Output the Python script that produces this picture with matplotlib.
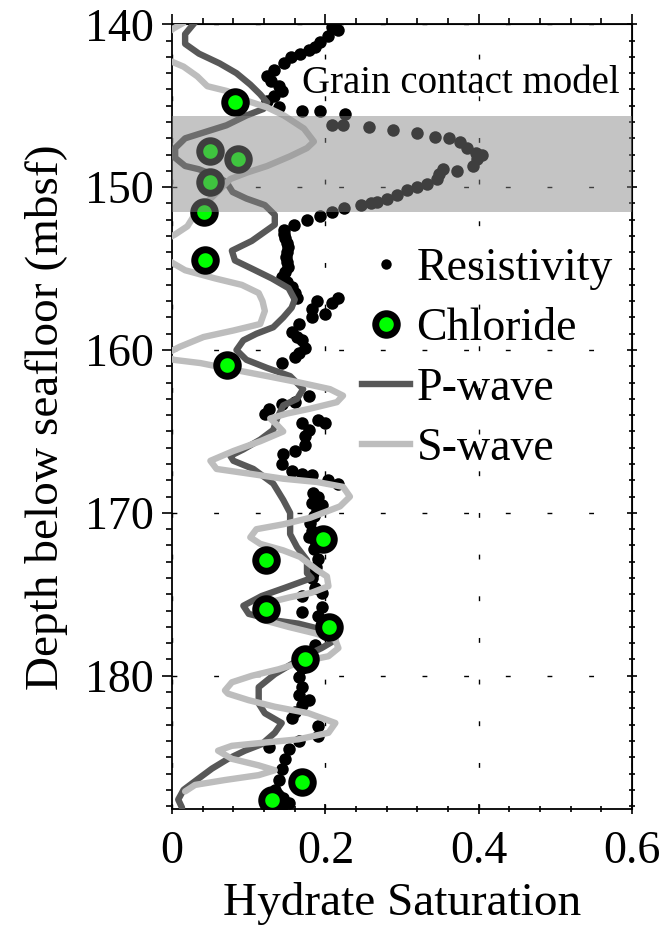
import matplotlib
matplotlib.use("Agg")
import matplotlib.pyplot as plt
from matplotlib.ticker import MultipleLocator, NullFormatter
from matplotlib.lines import Line2D

plt.rcParams["font.family"] = ["Liberation Serif", "DejaVu Serif"]

# resistivity-derived saturation (depth mbsf, saturation)
res_depth = [140.15, 140.35, 140.7, 141.1, 141.4, 141.6, 141.8, 142.0, 142.4, 142.8,
             143.2, 143.5, 143.8, 144.1, 144.4, 144.7, 145.1, 145.3, 145.3, 145.5,
             146.2, 146.2, 146.3, 146.5, 146.7, 146.9, 147.0, 147.2, 147.6, 147.9,
             148.0, 148.3, 148.7, 149.0, 148.9, 149.2, 149.5, 149.8, 150.0, 150.2,
             150.5, 150.7, 150.9, 151.0, 151.1, 151.3, 151.5, 151.8, 152.0, 152.3,
             152.6, 152.9, 153.1, 153.4, 153.7, 154.0, 154.3, 154.6, 154.9, 155.2,
             155.5, 155.8, 156.1, 156.5, 156.8, 156.8, 157.0, 157.1, 157.5, 157.8,
             158.0, 158.4, 158.9, 159.2, 159.4, 159.9, 160.2, 160.4, 160.8, 162.8,
             163.2, 163.3, 163.6, 163.9, 164.3, 164.5, 164.5, 164.9, 165.3, 165.8,
             166.2, 166.4, 167.0, 167.4, 167.6, 167.7, 168.0, 168.2, 168.8, 169.0,
             169.4, 169.5, 169.8, 170.2, 170.6, 171.1, 171.5, 172.2, 172.8, 173.3,
             173.7, 174.0, 174.6, 174.9, 175.1, 175.8, 176.1, 176.3, 177.3, 178.1,
             178.6, 179.0, 179.5, 180.1, 180.7, 181.2, 181.5, 181.8, 182.2, 182.6,
             183.1, 183.7, 184.0, 184.4, 184.5, 185.1, 185.7, 186.4, 187.0, 187.5,
             187.8, 188.0]
res_sat = [0.209, 0.216, 0.204, 0.193, 0.187, 0.178, 0.167, 0.155, 0.146, 0.133,
           0.124, 0.129, 0.140, 0.144, 0.133, 0.124, 0.139, 0.170, 0.193, 0.225,
           0.209, 0.223, 0.257, 0.288, 0.320, 0.343, 0.361, 0.376, 0.385, 0.396,
           0.404, 0.398, 0.393, 0.372, 0.354, 0.348, 0.345, 0.333, 0.320, 0.307,
           0.293, 0.280, 0.267, 0.259, 0.246, 0.224, 0.209, 0.193, 0.176, 0.159,
           0.146, 0.146, 0.147, 0.150, 0.151, 0.150, 0.149, 0.150, 0.151, 0.147,
           0.143, 0.150, 0.156, 0.160, 0.163, 0.217, 0.189, 0.208, 0.182, 0.199,
           0.182, 0.165, 0.156, 0.163, 0.169, 0.173, 0.166, 0.160, 0.143, 0.178,
           0.160, 0.143, 0.126, 0.121, 0.191, 0.199, 0.169, 0.178, 0.173, 0.173,
           0.160, 0.145, 0.143, 0.156, 0.169, 0.182, 0.204, 0.217, 0.184, 0.191,
           0.182, 0.195, 0.189, 0.185, 0.180, 0.182, 0.178, 0.185, 0.190, 0.188,
           0.184, 0.182, 0.187, 0.195, 0.169, 0.195, 0.169, 0.191, 0.200, 0.187,
           0.180, 0.175, 0.169, 0.165, 0.169, 0.165, 0.178, 0.169, 0.160, 0.156,
           0.191, 0.191, 0.165, 0.126, 0.152, 0.147, 0.143, 0.139, 0.134, 0.145,
           0.152, 0.143]

# chloride-derived saturation
cl_depth = [144.8, 147.8, 148.3, 149.7, 151.5, 154.5, 160.9, 171.6, 172.9,
            175.9, 177.0, 179.0, 186.5, 187.6]
cl_sat = [0.082, 0.049, 0.086, 0.050, 0.042, 0.043, 0.072, 0.197, 0.123,
          0.123, 0.205, 0.173, 0.170, 0.131]

# P-wave velocity-derived saturation
p_depth = [139.7, 140.6, 141.2, 141.8, 142.4, 143.0, 143.7, 144.3, 144.8, 145.2,
           145.6, 146.2, 146.6, 147.0, 147.6, 148.2, 148.7, 148.9, 149.3, 149.7,
           150.3, 150.7, 151.1, 151.7, 152.3, 153.3, 153.9, 154.5, 155.0, 155.6,
           156.2, 156.9, 157.4, 158.0, 158.6, 159.0, 159.4, 160.0, 160.6, 161.1,
           161.6, 162.4, 163.0, 163.4, 164.2, 164.9, 165.5, 166.1, 166.5, 166.8,
           167.3, 168.2, 169.2, 170.0, 171.3, 172.1, 172.9, 173.7, 174.0, 174.6,
           175.1, 175.7, 176.2, 176.6, 176.8, 177.2, 177.8, 178.3, 178.8, 179.9,
           180.7, 181.7, 182.3, 182.9, 183.5, 184.2, 184.6, 185.1, 185.7, 186.4,
           187.0, 187.6, 188.1]
p_sat = [0.033, 0.017, 0.017, 0.035, 0.062, 0.084, 0.102, 0.115, 0.124, 0.119,
         0.097, 0.071, 0.044, 0.017, 0.004, 0.004, 0.017, 0.035, 0.057, 0.071,
         0.079, 0.097, 0.121, 0.134, 0.134, 0.104, 0.078, 0.082, 0.104, 0.130,
         0.152, 0.160, 0.156, 0.145, 0.132, 0.110, 0.093, 0.084, 0.097, 0.124,
         0.154, 0.171, 0.163, 0.145, 0.137, 0.132, 0.115, 0.093, 0.076, 0.080,
         0.106, 0.132, 0.145, 0.154, 0.154, 0.163, 0.176, 0.176, 0.182, 0.147,
         0.117, 0.093, 0.100, 0.134, 0.165, 0.199, 0.213, 0.195, 0.173, 0.134,
         0.113, 0.113, 0.121, 0.143, 0.134, 0.117, 0.095, 0.073, 0.052, 0.032,
         0.015, 0.008, 0.013]

# S-wave velocity-derived saturation
s_depth = [139.9, 140.25, 141.0, 142.0, 142.3, 142.6, 143.2, 143.8, 144.1, 144.7,
           145.1, 145.6, 146.4, 147.2, 147.6, 148.1, 148.7, 149.1, 149.5, 150.3,
           150.9, 151.8, 152.4, 152.9, 153.5, 154.5, 155.1, 155.6, 156.0, 156.5,
           157.0, 157.6, 158.4, 158.8, 159.2, 159.8, 160.3, 160.6, 160.8, 161.2,
           161.6, 162.0, 162.4, 162.8, 163.2, 163.6, 163.9, 164.2, 164.6, 165.0,
           165.6, 166.2, 166.8, 167.3, 167.6, 167.9, 168.1, 168.4, 169.0, 169.6,
           170.3, 170.7, 171.0, 171.5, 171.9, 172.3, 172.7, 173.5, 173.9, 174.5,
           174.9, 175.2, 175.5, 176.1, 176.6, 177.0, 177.4, 177.8, 178.3, 178.8,
           179.1, 179.6, 180.0, 180.4, 180.9, 181.1, 181.5, 181.9, 182.3, 182.9,
           183.5, 183.9, 184.1, 184.3, 184.6, 185.1, 185.5, 185.8, 186.1, 186.4,
           186.7, 187.1]
s_sat = [0.015, 0.002, -0.02, -0.02, 0.0, 0.015, 0.033, 0.046, 0.072, 0.098,
         0.124, 0.146, 0.172, 0.185, 0.176, 0.154, 0.124, 0.098, 0.076, 0.059,
         0.046, 0.028, 0.020, 0.004, -0.02, -0.005, 0.017, 0.056, 0.091, 0.113,
         0.118, 0.121, 0.115, 0.080, 0.041, 0.010, -0.011, 0.002, 0.037, 0.080,
         0.124, 0.167, 0.206, 0.223, 0.215, 0.180, 0.150, 0.128, 0.137, 0.145,
         0.115, 0.080, 0.050, 0.058, 0.102, 0.145, 0.189, 0.223, 0.232, 0.219,
         0.180, 0.145, 0.110, 0.102, 0.115, 0.145, 0.167, 0.189, 0.202, 0.204,
         0.182, 0.152, 0.126, 0.113, 0.121, 0.152, 0.187, 0.213, 0.217, 0.204,
         0.173, 0.139, 0.104, 0.078, 0.069, 0.073, 0.100, 0.134, 0.178, 0.213,
         0.204, 0.165, 0.121, 0.078, 0.060, 0.078, 0.113, 0.134, 0.113, 0.069,
         0.030, 0.017]

band = (145.65, 151.5)

fig = plt.figure(figsize=(6.67, 9.35), dpi=100)
ax = fig.add_axes([0.258, 0.1344, 0.6895, 0.8396])

ax.plot(res_sat, res_depth, "o", color="black", ms=9, mew=0, zorder=2)
ax.plot(p_sat, p_depth, "-", color="#585858", lw=4.6, solid_capstyle="round",
        solid_joinstyle="round", zorder=3)
ax.plot(s_sat, s_depth, "-", color="#bdbdbd", lw=4.6, solid_capstyle="round",
        solid_joinstyle="round", zorder=4)
ax.plot(cl_sat, cl_depth, "o", color="#00ff00", ms=15.5, mec="black", mew=5,
        zorder=5)
ax.axhspan(*band, color="#858585", alpha=0.48, lw=0, zorder=6)

ax.text(0.170, 143.65, "Grain contact model", fontsize=28, ha="left",
        va="center", zorder=7)

ax.set_xlim(0, 0.6)
ax.set_ylim(188.2, 140)
ax.xaxis.set_major_locator(MultipleLocator(0.2))
ax.xaxis.set_minor_locator(MultipleLocator(0.04))
ax.yaxis.set_major_locator(MultipleLocator(10))
ax.yaxis.set_minor_locator(MultipleLocator(1))
ax.xaxis.set_major_formatter(plt.FuncFormatter(lambda v, p: "0" if abs(v) < 1e-9 else f"{v:.1f}"))
ax.tick_params(axis="both", which="both", labelsize=33, width=1.2)
ax.tick_params(axis="both", which="major", length=7)
ax.tick_params(axis="both", which="minor", length=4)
ax.tick_params(axis="x", which="both", direction="inout", pad=12)
ax.tick_params(axis="y", which="both", direction="out", pad=6)
for sp in ax.spines.values():
    sp.set_linewidth(1.3)

# top: outward ticks, right: crossing ticks, no labels
top = ax.secondary_xaxis("top")
top.xaxis.set_major_locator(MultipleLocator(0.2))
top.xaxis.set_minor_locator(MultipleLocator(0.04))
top.xaxis.set_major_formatter(NullFormatter())
top.tick_params(which="both", direction="out", width=1.2)
top.tick_params(which="major", length=7)
top.tick_params(which="minor", length=4)
right = ax.secondary_yaxis("right")
right.yaxis.set_major_locator(MultipleLocator(10))
right.yaxis.set_minor_locator(MultipleLocator(1))
right.yaxis.set_major_formatter(NullFormatter())
right.tick_params(which="both", direction="inout", width=1.2)
right.tick_params(which="major", length=7)
right.tick_params(which="minor", length=4)

ax.grid(True, which="major", color="black", lw=1.0,
        linestyle=(0, (3.5, 26.5)), zorder=1)

ax.set_xlabel("Hydrate Saturation", fontsize=34, labelpad=6)
ax.set_ylabel("Depth below seafloor (mbsf)", fontsize=34, labelpad=12)

handles = [
    Line2D([], [], marker="o", ls="none", color="black", ms=7.5, mew=0),
    Line2D([], [], marker="o", ls="none", color="#00ff00", ms=15.5,
           mec="black", mew=5),
    Line2D([], [], color="#585858", lw=4.6),
    Line2D([], [], color="#bdbdbd", lw=4.6),
]
labels = ["Resistivity", "Chloride", "P-wave", "S-wave"]
ax.legend(handles, labels, loc="upper left", bbox_to_anchor=(0.542, 0.735),
          bbox_transform=fig.transFigure, frameon=False, fontsize=33,
          handlelength=1.05, handletextpad=0.15, labelspacing=0.38,
          borderpad=0, borderaxespad=0)

fig.savefig("out.png", dpi=100, facecolor="white")
